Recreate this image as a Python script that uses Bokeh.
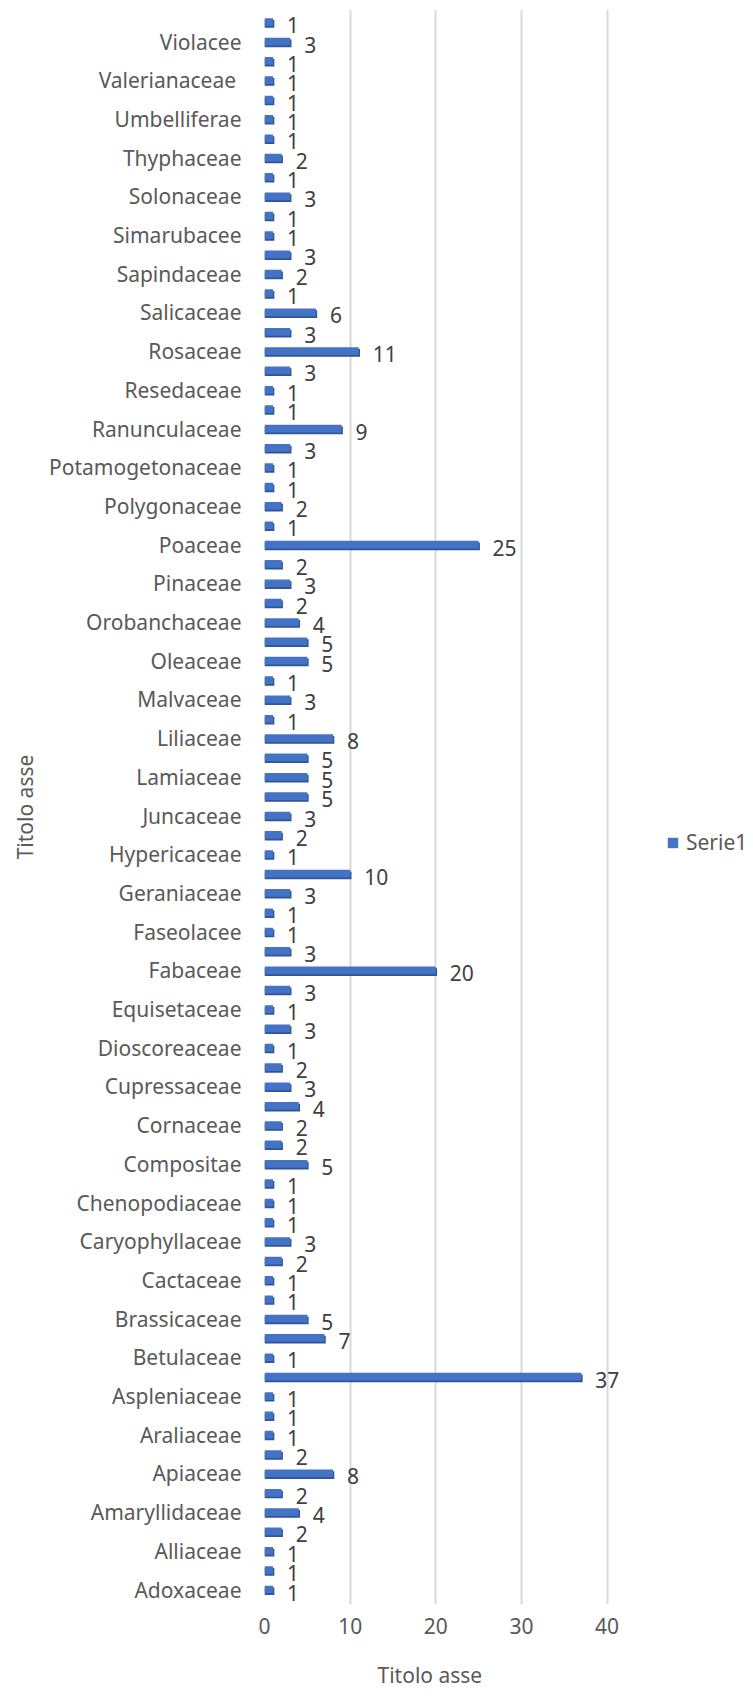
from bokeh.plotting import figure
from bokeh.models import ColumnDataSource, Range1d, FixedTicker, Legend, LegendItem, Title
from bokeh.core.properties import value
from bokeh.embed import file_html
from bokeh.resources import INLINE

# Category labels from bottom (index 0) to top; "" = label not shown on the axis
labels = [
    "Adoxaceae", "", "Alliaceae", "", "Amaryllidaceae", "", "Apiaceae", "",
    "Araliaceae", "", "Aspleniaceae", "", "Betulaceae", "", "Brassicaceae", "",
    "Cactaceae", "", "Caryophyllaceae", "", "Chenopodiaceae", "", "Compositae", "",
    "Cornaceae", "", "Cupressaceae", "", "Dioscoreaceae", "", "Equisetaceae", "",
    "Fabaceae", "", "Faseolacee", "", "Geraniaceae", "", "Hypericaceae", "",
    "Juncaceae", "", "Lamiaceae", "", "Liliaceae", "", "Malvaceae", "",
    "Oleaceae", "", "Orobanchaceae", "", "Pinaceae", "", "Poaceae", "",
    "Polygonaceae", "", "Potamogetonaceae", "", "Ranunculaceae", "", "Resedaceae", "",
    "Rosaceae", "", "Salicaceae", "", "Sapindaceae", "", "Simarubacee", "",
    "Solonaceae", "", "Thyphaceae", "", "Umbelliferae", "", "Valerianaceae ", "",
    "Violacee", "",
]
values = [
    1, 1, 1, 2, 4, 2, 8, 2,
    1, 1, 1, 37, 1, 7, 5, 1,
    1, 2, 3, 1, 1, 1, 5, 2,
    2, 4, 3, 2, 1, 3, 1, 3,
    20, 3, 1, 1, 3, 10, 1, 2,
    3, 5, 5, 5, 8, 1, 3, 1,
    5, 5, 4, 2, 3, 2, 25, 1,
    2, 1, 1, 3, 9, 1, 1, 3,
    11, 3, 6, 1, 2, 3, 1, 1,
    3, 1, 2, 1, 1, 1, 1, 1,
    3, 1,
]
series_name = "Serie1"
x_ticks = [0, 10, 20, 30, 40]
axis_title = "Titolo asse"

FONT = value("Noto Sans")
BAR = "#4472C4"
BAR_DARK = "#2F5597"
TXT = "#595959"

ypos = list(range(len(values)))
src = ColumnDataSource(dict(
    y=ypos,
    v=values,
    ys=[y - 0.09 for y in ypos],
    vs=[v + 0.15 for v in values],
    t=[str(v) for v in values],
))

p = figure(frame_width=483, frame_height=1595, output_backend="svg", toolbar_location=None,
           x_range=Range1d(0, 56.4), y_range=Range1d(-0.775, 81.656),
           min_border_top=9, min_border_bottom=94, min_border_left=262, min_border_right=6)
p.outline_line_color = None
p.background_fill_color = None
p.border_fill_color = "white"

p.xgrid.ticker = FixedTicker(ticks=x_ticks[1:])
p.xgrid.grid_line_color = "#d9d9d9"
p.xgrid.grid_line_width = 2
p.ygrid.visible = False

p.xaxis.ticker = FixedTicker(ticks=x_ticks)
p.yaxis.ticker = FixedTicker(ticks=[i for i, l in enumerate(labels) if l])
p.yaxis.major_label_overrides = {i: l for i, l in enumerate(labels) if l}

for ax in (p.xaxis[0], p.yaxis[0]):
    ax.axis_line_color = None
    ax.major_tick_line_color = None
    ax.minor_tick_line_color = None
    ax.major_label_text_font = "Noto Sans"
    ax.major_label_text_font_size = "21px"
    ax.major_label_text_color = TXT

p.xaxis.major_label_standoff = 7
p.yaxis.major_label_standoff = 17

# axis titles
ytitle = Title(text=axis_title, align="center", standoff=16,
               text_font="Noto Sans", text_font_size="21px",
               text_font_style="normal", text_color=TXT)
p.add_layout(ytitle, "left")
xtitle = Title(text=axis_title, align="left", offset=113, standoff=45,
               text_font="Noto Sans", text_font_size="21px",
               text_font_style="normal", text_color=TXT)
p.add_layout(xtitle, "below")

p.hbar(y="ys", left=0, right="vs", height=0.4, source=src,
       fill_color=BAR_DARK, line_color=None)
main = p.hbar(y="y", left=0, right="v", height=0.4, source=src,
              fill_color=BAR, line_color=None)
p.text(x="v", y="y", text="t", source=src, x_offset=14, y_offset=3,
       text_align="left", text_baseline="middle", text_font=FONT,
       text_font_size="21px", text_color="#404040")

legend = Legend(items=[LegendItem(label=series_name, renderers=[main])],
                location=(402, 748))
legend.border_line_color = None
legend.background_fill_alpha = 0
legend.padding = 0
legend.margin = 0
legend.spacing = 0
legend.glyph_width = 13
legend.glyph_height = 13
legend.label_height = 26
legend.label_standoff = 7
legend.label_text_font = "Noto Sans"
legend.label_text_font_size = "21px"
legend.label_text_color = TXT
p.add_layout(legend)

open("out.html", "w").write(file_html(p, INLINE))
